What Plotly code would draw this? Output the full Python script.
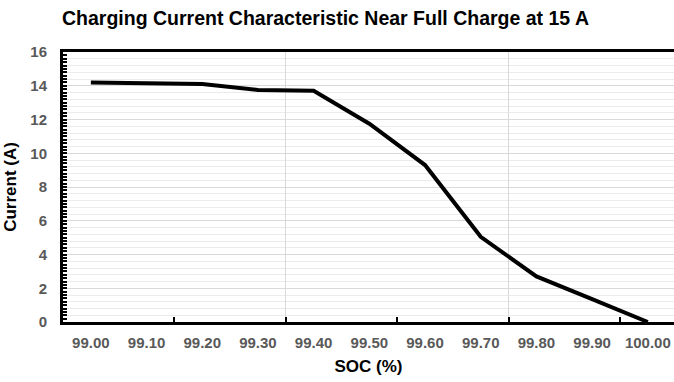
import plotly.graph_objects as go

# State of charge (%) and charging current (A)
soc = [99.00, 99.10, 99.20, 99.30, 99.40, 99.50, 99.60, 99.70, 99.80, 99.90, 100.00]
current = [14.20, 14.15, 14.10, 13.75, 13.70, 11.75, 9.30, 5.05, 2.70, 1.35, 0.00]

soc_tick_vals = [99.00, 99.10, 99.20, 99.30, 99.40, 99.50, 99.60, 99.70, 99.80, 99.90, 100.00]
soc_tick_text = [f"{v:.2f}" for v in soc_tick_vals]

x_range = [98.95, 100.047]
y_range = [0, 16]

FONT = "Liberation Sans, Arial, sans-serif"
TICK_GRAY = "#595959"

fig = go.Figure()

# transparent copy on the base axes so the frame and gridlines are rendered
fig.add_trace(go.Scatter(
    x=soc, y=current, mode="lines",
    line=dict(color="rgba(0,0,0,0)", width=0),
    xaxis="x", yaxis="y",
    hoverinfo="skip", showlegend=False,
))

fig.add_trace(go.Scatter(
    x=soc, y=current, mode="lines",
    line=dict(color="black", width=4),
    xaxis="x2", yaxis="y2",
    hoverinfo="skip", showlegend=False,
))

fig.update_layout(
    width=674, height=382,
    margin=dict(l=63, r=0, t=52, b=60),
    paper_bgcolor="white", plot_bgcolor="white",
    font=dict(family=FONT),
    title=dict(
        text="<b>Charging Current Characteristic Near Full Charge at 15 A</b>",
        font=dict(family=FONT, size=19.5, color="black"),
        x=62 / 674, xanchor="left", xref="container",
        y=1 - 18 / 382, yanchor="middle", yref="container",
    ),
    # base x axis: frame lines, vertical gridlines and tick marks
    xaxis=dict(
        range=x_range, tickmode="linear", tick0=98.95, dtick=0.4,
        showgrid=True, gridcolor="#d9d9d9", gridwidth=1,
        ticks="inside", ticklen=5, tickwidth=2, tickcolor="black",
        minor=dict(tick0=98.95, dtick=0.2, ticks="inside", ticklen=5,
                   tickwidth=2, tickcolor="black", showgrid=False),
        showticklabels=False, zeroline=False,
        showline=True, linecolor="black", linewidth=3, mirror=True,
    ),
    # base y axis: frame line and horizontal gridlines
    yaxis=dict(
        range=y_range, tickmode="linear", tick0=0, dtick=2,
        showgrid=True, gridcolor="#d9d9d9", gridwidth=1,
        minor=dict(dtick=0.4, showgrid=True, gridcolor="#ebebeb", gridwidth=1),
        ticks="", zeroline=False,
        showticklabels=True, ticklabelstandoff=10,
        tickfont=dict(family=FONT, size=15, color=TICK_GRAY, weight="bold"),
        showline=True, linecolor="black", linewidth=3,
        title=dict(text="<b>Current (A)</b>", standoff=10,
                   font=dict(family=FONT, size=17, color="black")),
    ),
    # overlay x axis: SOC labels
    xaxis2=dict(
        overlaying="x", anchor="y2", side="bottom", range=x_range,
        tickmode="array", tickvals=soc_tick_vals, ticktext=soc_tick_text,
        ticks="", showgrid=False, zeroline=False, showline=False,
        ticklabelstandoff=10,
        tickfont=dict(family=FONT, size=15, color=TICK_GRAY, weight="bold"),
        title=dict(text="<b>SOC (%)</b>", standoff=10,
                   font=dict(family=FONT, size=17, color="black")),
    ),
    # overlay y axis: fine tick marks along the left edge
    yaxis2=dict(
        overlaying="y", anchor="x2", side="left", range=y_range,
        tickmode="linear", tick0=0, dtick=0.2,
        ticks="inside", ticklen=4, tickwidth=2, tickcolor="black",
        showticklabels=False, showgrid=False, zeroline=False, showline=False,
    ),
)

fig.write_html("out.html")
